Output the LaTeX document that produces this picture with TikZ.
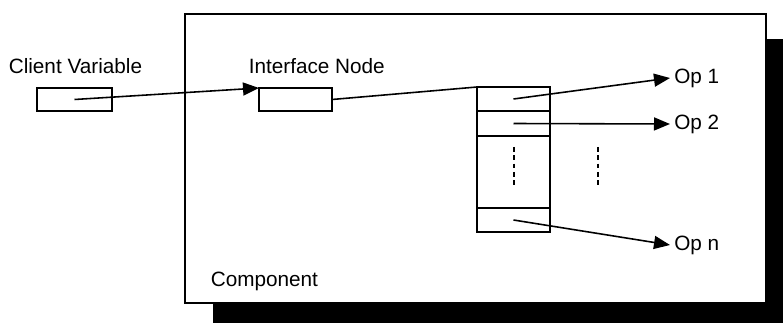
\documentclass[tikz,border=0pt]{standalone}
\usepackage{fontspec}
\setmainfont{Liberation Sans}
\usetikzlibrary{arrows.meta}
\tikzset{
  cellbox/.style={draw, line width=0.8pt, minimum width=1.46cm, inner sep=0pt, outer sep=0pt},
  oplabel/.style={anchor=west, inner sep=2pt},
  caption/.style={anchor=west, inner sep=0pt},
  link/.style={-{Triangle[length=3.2mm,width=2.6mm]}},
  dots/.style={line width=1.6pt, dash pattern=on 2.8pt off 1.9pt}
}
\begin{document}
\fontsize{11.8}{14}\selectfont
\begin{tikzpicture}[line width=0.9pt]
  \useasboundingbox (0,0) rectangle (15.66,6.46);
  % shadow of the component
  \fill[black] (4.26,0) rectangle (15.66,0.40);
  \fill[black] (15.32,0) rectangle (15.66,5.68);
  \draw[line width=1.1pt, fill=white] (3.70,0.40) rectangle (15.32,6.18);
  \node[caption] (comp) at (4.20,0.84) {Component};
  % variables
  \node[caption] (cvtext) at (0.16,5.14) {Client Variable};
  \node[caption] (intext) at (4.96,5.14) {Interface Node};
  \node[cellbox, minimum width=1.5cm, minimum height=0.46cm] (client) at (1.49,4.47) {};
  \node[cellbox, minimum height=0.46cm] (iface) at (5.91,4.47) {};
  % operation table
  \node[cellbox, minimum height=0.48cm] (cell1) at (10.27,4.48) {};
  \node[cellbox, minimum height=0.50cm, anchor=north] (cell2) at (cell1.south) {};
  \node[cellbox, minimum height=1.44cm, anchor=north] (cellm) at (cell2.south) {};
  \node[cellbox, minimum height=0.48cm, anchor=north] (celln) at (cellm.south) {};
  \node[oplabel] (op1) at (13.40,4.90) {Op 1};
  \node[oplabel] (op2) at (13.40,3.98) {Op 2};
  \node[oplabel] (opn) at (13.40,1.56) {Op n};
  % links
  \draw[link] (client.center) -- (iface.north west);
  \draw (iface.east) -- (cell1.north west);
  \draw[link] (cell1.center) -- (op1.west);
  \draw[link] (cell2.center) -- (op2.west);
  \draw[link] (celln.center) -- (opn.west);
  % ellipsis
  \draw[dots] (10.28,3.52) -- (10.28,2.74);
  \draw[dots] (11.96,3.52) -- (11.96,2.74);
\end{tikzpicture}
\end{document}
